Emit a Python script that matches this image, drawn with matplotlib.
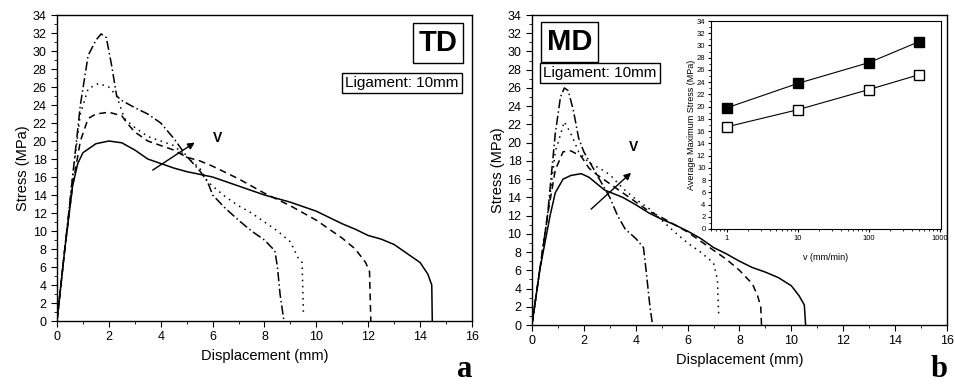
import numpy as np
import matplotlib
matplotlib.use('Agg')
import matplotlib.pyplot as plt
from matplotlib.ticker import MultipleLocator, LogLocator, NullFormatter

plt.rcParams['font.family'] = ['Liberation Sans', 'DejaVu Sans']

# --- TD (panel a): stress-displacement curves, increasing crosshead speed ---
td_solid_x = [0, 0.3, 0.6, 0.8, 1.0, 1.5, 2.0, 2.5, 3.0, 3.5, 4.0, 4.5, 5.0, 5.5, 6.0, 6.5, 7.0,
              7.5, 8.0, 8.5, 9.0, 9.5, 10.0, 10.5, 11.0, 11.5, 12.0, 12.5, 13.0, 13.5, 14.0,
              14.3, 14.45, 14.47]
td_solid_y = [0, 8, 15, 17.5, 18.7, 19.7, 20.0, 19.8, 19.0, 18.0, 17.5, 17.0, 16.6, 16.3, 16.0,
              15.5, 15.0, 14.5, 14.0, 13.6, 13.2, 12.7, 12.2, 11.5, 10.8, 10.2, 9.5, 9.1, 8.5,
              7.5, 6.5, 5.2, 4.0, 0]
td_dash_x = [0, 0.3, 0.6, 0.9, 1.2, 1.5, 2.0, 2.5, 2.7, 3.0, 3.5, 4.0, 4.5, 5.0, 5.5, 6.0, 6.5,
             7.0, 7.5, 8.0, 8.5, 9.0, 9.5, 10.0, 10.5, 11.0, 11.5, 11.9, 12.05, 12.1]
td_dash_y = [0, 8, 15, 20, 22.5, 23.0, 23.2, 22.8, 22.0, 21.0, 20.0, 19.5, 19.0, 18.2, 17.8,
             17.2, 16.5, 15.8, 15.0, 14.2, 13.5, 12.8, 12.0, 11.2, 10.2, 9.2, 8.0, 6.5, 5.5, 0]
td_dot_x = [0, 0.3, 0.6, 0.9, 1.2, 1.6, 2.0, 2.3, 2.6, 3.0, 3.5, 4.0, 4.5, 5.0, 5.5, 5.8, 6.2,
            6.5, 7.0, 7.5, 8.0, 8.5, 9.0, 9.3, 9.45, 9.5]
td_dot_y = [0, 8, 16, 23, 25.8, 26.4, 26.0, 25.0, 22.5, 21.5, 20.5, 20.0, 19.5, 18.2, 17.0,
            15.5, 14.5, 13.8, 12.8, 12.0, 11.0, 10.0, 8.8, 7.0, 6.5, 1.0]
td_dd_x = [0, 0.3, 0.6, 0.9, 1.2, 1.5, 1.7, 1.9, 2.1, 2.3, 2.5, 3.0, 3.5, 4.0, 4.5, 5.0, 5.5,
           5.8, 6.0, 6.5, 7.0, 7.5, 8.0, 8.4, 8.5, 8.6, 8.75]
td_dd_y = [0, 8, 16, 24, 29.5, 31.2, 31.9, 31.5, 28.5, 25.0, 24.5, 23.7, 23.0, 22.0, 20.3,
           18.3, 16.7, 15.5, 14.0, 12.5, 11.2, 10.0, 9.0, 7.8, 6.0, 3.0, 0]

# --- MD (panel b) ---
md_solid_x = [0, 0.3, 0.5, 0.7, 0.9, 1.2, 1.5, 1.9, 2.2, 2.5, 2.8, 3.5, 4.0, 4.5, 5.0, 5.5,
              6.0, 6.5, 7.0, 7.5, 8.0, 8.5, 9.0, 9.5, 10.0, 10.3, 10.5, 10.55]
md_solid_y = [0, 6, 9, 12, 14.5, 16.0, 16.4, 16.6, 16.2, 15.5, 14.8, 14.0, 13.2, 12.3, 11.6,
              11.0, 10.3, 9.5, 8.5, 7.8, 7.0, 6.3, 5.8, 5.2, 4.3, 3.2, 2.2, 0]
md_dash_x = [0, 0.3, 0.6, 0.9, 1.2, 1.5, 1.9, 2.2, 2.5, 3.0, 3.5, 4.0, 4.5, 5.0, 5.5, 6.0, 6.5,
             7.0, 7.5, 8.0, 8.5, 8.7, 8.82, 8.85]
md_dash_y = [0, 6, 12, 17, 19.0, 19.1, 18.5, 17.2, 16.5, 15.5, 14.5, 13.5, 12.5, 11.8, 11.0,
             10.2, 9.2, 8.2, 7.2, 6.0, 4.5, 3.2, 2.0, 0]
md_dot_x = [0, 0.3, 0.6, 0.9, 1.25, 1.5, 1.8, 2.2, 2.6, 3.0, 3.5, 4.0, 4.5, 5.0, 5.5, 6.0, 6.5,
            7.0, 7.15, 7.2]
md_dot_y = [0, 6, 12, 19, 22.3, 21.0, 19.0, 17.8, 17.2, 16.5, 15.0, 13.8, 12.8, 11.5, 10.2,
            9.0, 8.0, 6.8, 5.0, 1.0]
md_dd_x = [0, 0.3, 0.6, 0.9, 1.1, 1.25, 1.4, 1.6, 1.8, 2.0, 2.3, 2.6, 3.0, 3.3, 3.6, 4.0, 4.3,
           4.4, 4.55, 4.65]
md_dd_y = [0, 6, 12, 21, 25.0, 26.0, 25.7, 23.5, 20.5, 19.0, 17.5, 16.0, 14.0, 12.0, 10.5,
           9.5, 8.5, 6.0, 2.0, 0]

# --- inset: average maximum stress vs crosshead speed ---
speeds = [1, 10, 100, 500]
max_td = [19.8, 23.8, 27.2, 30.6]
max_md = [16.7, 19.5, 22.8, 25.2]

# solid, dashed, dotted, dash-dot (slow -> fast)
DASHES = [None, (0, (4.5, 3)), (0, (1, 3)), (0, (6, 2, 1, 2))]


def stress_axes(ax, curves):
    for (x, y), dash in zip(curves, DASHES):
        if dash is None:
            ax.plot(x, y, color='k', lw=1.1)
        else:
            ax.plot(x, y, color='k', lw=1.1, linestyle=dash)
    ax.set_xlim(0, 16); ax.set_ylim(0, 34)
    ax.xaxis.set_major_locator(MultipleLocator(2)); ax.xaxis.set_minor_locator(MultipleLocator(1))
    ax.yaxis.set_major_locator(MultipleLocator(2)); ax.yaxis.set_minor_locator(MultipleLocator(1))
    ax.tick_params(which='both', direction='out', top=False, right=False, labelsize=9)
    ax.tick_params(which='major', length=4); ax.tick_params(which='minor', length=2)
    ax.set_xlabel('Displacement (mm)', fontsize=10.5)
    ax.set_ylabel('Stress (MPa)', fontsize=10.5, labelpad=2)
    for s in ax.spines.values():
        s.set_linewidth(1.0)


fig = plt.figure(figsize=(9.55, 3.87), dpi=100)
ax_a = fig.add_axes([0.0597, 0.1705, 0.4345, 0.7907])
ax_b = fig.add_axes([0.557, 0.1602, 0.4346, 0.801])

stress_axes(ax_a, [(td_solid_x, td_solid_y), (td_dash_x, td_dash_y),
                   (td_dot_x, td_dot_y), (td_dd_x, td_dd_y)])
stress_axes(ax_b, [(md_solid_x, md_solid_y), (md_dash_x, md_dash_y),
                   (md_dot_x, md_dot_y), (md_dd_x, md_dd_y)])

# labels and speed arrows
ax_a.text(0.918, 0.908, 'TD', transform=ax_a.transAxes, fontsize=21, fontweight='bold',
          ha='center', va='center', bbox=dict(fc='white', ec='k', lw=1.0, boxstyle='square,pad=0.2'))
ax_a.text(0.831, 0.778, 'Ligament: 10mm', transform=ax_a.transAxes, fontsize=11,
          ha='center', va='center', bbox=dict(fc='white', ec='k', lw=1.0, boxstyle='square,pad=0.2'))
ax_a.annotate('', xy=(5.4, 20.0), xytext=(3.6, 16.6),
              arrowprops=dict(arrowstyle='-|>', color='k', lw=1.0, mutation_scale=10))
ax_a.text(6.2, 20.3, 'V', fontsize=10, fontweight='bold', ha='center', va='center')

ax_b.text(0.090, 0.913, 'MD', transform=ax_b.transAxes, fontsize=21, fontweight='bold',
          ha='center', va='center', bbox=dict(fc='white', ec='k', lw=1.0, boxstyle='square,pad=0.2'))
ax_b.text(0.164, 0.813, 'Ligament: 10mm', transform=ax_b.transAxes, fontsize=11,
          ha='center', va='center', bbox=dict(fc='white', ec='k', lw=1.0, boxstyle='square,pad=0.2'))
ax_b.annotate('', xy=(3.9, 16.9), xytext=(2.2, 12.5),
              arrowprops=dict(arrowstyle='-|>', color='k', lw=1.0, mutation_scale=10))
ax_b.text(3.9, 19.5, 'V', fontsize=10, fontweight='bold', ha='center', va='center')

# inset
ax_in = fig.add_axes([0.7445, 0.4083, 0.2408, 0.5374])
ax_in.plot(speeds, max_td, color='k', lw=0.8, marker='s', ms=6.5, mfc='k', mec='k')
ax_in.plot(speeds, max_md, color='k', lw=0.8, marker='s', ms=6.5, mfc='white', mec='k')
ax_in.set_xscale('log')
ax_in.set_xlim(0.6, 1030); ax_in.set_ylim(0, 34)
ax_in.set_xticks([1, 10, 100, 1000]); ax_in.set_xticklabels(['1', '10', '100', '1000'])
ax_in.xaxis.set_minor_locator(LogLocator(base=10, subs=np.arange(2, 10), numticks=10))
ax_in.xaxis.set_minor_formatter(NullFormatter())
ax_in.yaxis.set_major_locator(MultipleLocator(2)); ax_in.yaxis.set_minor_locator(MultipleLocator(1))
ax_in.tick_params(which='both', direction='out', top=False, right=False, labelsize=5.5, pad=1.5)
ax_in.tick_params(which='major', length=2.5); ax_in.tick_params(which='minor', length=1.5)
ax_in.set_xlabel('v (mm/min)', fontsize=6.5, labelpad=8)
ax_in.set_ylabel('Average Maximum Stress (MPa)', fontsize=6.5, labelpad=1)

fig.text(0.487, 0.045, 'a', fontsize=22, fontweight='bold', family='Liberation Serif',
         ha='center', va='center')
fig.text(0.983, 0.045, 'b', fontsize=22, fontweight='bold', family='Liberation Serif',
         ha='center', va='center')

fig.savefig('out.png', dpi=100)
